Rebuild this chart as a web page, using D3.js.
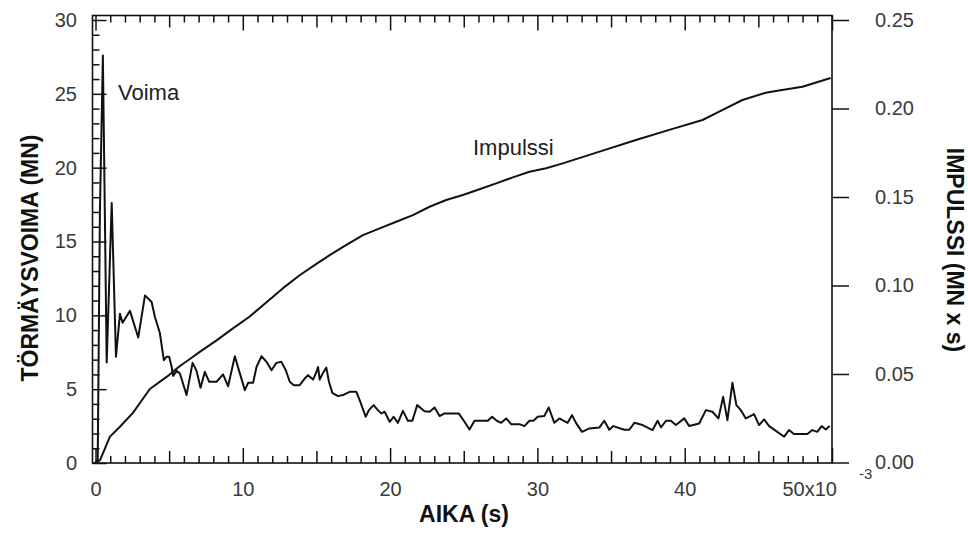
<!DOCTYPE html>
<html>
<head>
<meta charset="utf-8">
<script src="https://cdn.jsdelivr.net/npm/d3@7"></script>
<style>
  body { margin: 0; background: #fff; }
  svg { display: block; }
  text { font-family: Arial, "Liberation Sans", sans-serif; }
</style>
</head>
<body>
<svg id="chart" width="968" height="536"></svg>
<script>
// Collision force (MN) sampled against time (ms)
const forceTime = [0, 0.15, 0.3, 0.5, 0.76, 1.10, 1.39, 1.66, 1.84, 2.34, 2.90, 3.36, 3.81, 4.03, 4.37, 4.64, 4.83,
  5.0, 5.17, 5.27, 5.51, 5.73, 6.18, 6.59, 6.86, 7.13, 7.42, 7.72, 8.22, 8.66, 9.0, 9.46, 9.75,
  10.14, 10.36, 10.7, 10.93, 11.27, 11.61, 11.95, 12.28, 12.62, 12.92, 13.19, 13.46, 13.86, 14.2, 14.43, 14.77,
  15.0, 15.11, 15.22, 15.44, 15.67, 15.85, 16.08, 16.46, 16.8, 17.25, 17.71, 17.98, 18.34, 18.56, 18.88, 19.17,
  19.4, 19.63, 19.97, 20.24, 20.53, 20.87, 21.21, 21.51, 21.84, 22.34, 22.68, 23.02, 23.36, 23.69, 24.66, 25.05,
  25.39, 25.73, 26.63, 26.93, 27.24, 27.54, 27.88, 28.22, 28.78, 29.12, 29.46, 29.73, 30.02, 30.47, 30.77, 31.15,
  31.49, 32.05, 32.35, 32.62, 33.03, 33.53, 34.2, 34.54, 34.88, 35.15, 35.9, 36.24, 36.58, 37.14, 37.82, 38.16,
  38.39, 38.73, 39.06, 39.4, 39.97, 40.31, 40.98, 41.44, 41.88, 42.29, 42.61, 42.9, 43.24, 43.51, 43.81, 44.15,
  44.71, 45.05, 45.39, 45.73, 46.29, 46.75, 47.08, 47.42, 48.33, 48.66, 49.0, 49.3, 49.57, 49.84];
const forceValue = [0, 0.2, 17, 27.6, 6.8, 17.6, 7.2, 10.1, 9.5, 10.3, 8.5, 11.35, 10.9, 9.9, 8.8, 6.96, 7.2,
  7.2, 6.5, 5.9, 6.24, 6.06, 4.6, 6.78, 6.24, 5.1, 6.17, 5.5, 5.5, 6.0, 5.2, 7.23, 6.24,
  4.93, 5.43, 5.43, 6.5, 7.23, 6.85, 6.28, 6.78, 6.85, 6.28, 5.5, 5.27, 5.27, 5.72, 5.95, 5.65,
  6.17, 6.5, 5.65, 6.1, 6.46, 5.5, 4.75, 4.53, 4.6, 4.82, 4.82, 4.14, 3.13, 3.58, 3.92, 3.58,
  3.36, 3.47, 2.79, 3.13, 2.72, 3.53, 2.86, 2.86, 3.92, 3.51, 3.47, 3.76, 3.18, 3.36, 3.36, 2.79,
  2.27, 2.86, 2.86, 3.13, 2.86, 2.72, 3.02, 2.63, 2.63, 2.5, 2.86, 2.86, 3.13, 3.18, 3.76, 2.72,
  3.02, 2.72, 3.24, 2.72, 2.11, 2.34, 2.4, 2.86, 2.25, 2.5, 2.25, 2.25, 2.72, 2.57, 2.23, 2.86,
  2.41, 2.86, 2.86, 2.57, 3.02, 2.5, 2.68, 3.58, 3.47, 3.02, 4.48, 2.9, 5.43, 3.92, 3.58, 3.02,
  3.31, 2.57, 2.95, 2.5, 2.11, 1.78, 2.23, 1.96, 1.96, 2.23, 2.11, 2.5, 2.27, 2.5];

// Accumulated impulse (MN x s) against time (ms)
const impulseTime = [0, 0.31, 0.98, 1.66, 2.54, 3.69, 4.85, 5.73, 6.41, 7.08, 8.22, 9.12, 10.47, 11.61, 12.73, 13.86,
  15.0, 15.9, 17.03, 18.16, 19.29, 20.42, 21.55, 22.68, 23.81, 24.94, 26.07, 27.2, 28.33, 29.46, 30.59, 31.72,
  34.43, 36.69, 38.95, 41.21, 42.34, 43.92, 45.5, 46.4, 47.99, 49.91];
const impulseValue = [0, 0.0014, 0.0146, 0.0202, 0.028, 0.0415, 0.0485, 0.0545, 0.0585, 0.0625, 0.069, 0.0745, 0.0825, 0.0905, 0.0985, 0.1058,
  0.1122, 0.1172, 0.1229, 0.1285, 0.1323, 0.136, 0.1398, 0.1445, 0.1483, 0.1511, 0.1544, 0.1577, 0.1611, 0.1643, 0.1662, 0.169,
  0.1762, 0.1822, 0.1879, 0.1935, 0.1982, 0.2048, 0.2089, 0.2102, 0.2123, 0.2172];

// Axis tick values
const timeMajor = [0, 10, 20, 30, 40, 50];
const timeLabels = ["0", "10", "20", "30", "40", "50x10"];
const forceMajor = [0, 5, 10, 15, 20, 25, 30];
const impulseMajor = [0, 0.05, 0.10, 0.15, 0.20, 0.25];

const svg = d3.select("#chart");
svg.append("rect").attr("width", 968).attr("height", 536).attr("fill", "#fff");

const frameLeft = 92.5, frameRight = 832, frameTop = 15.5, frameBottom = 463;
const x = d3.scaleLinear().domain([0, 50]).range([95.5, frameRight]);
const yF = d3.scaleLinear().domain([0, 30]).range([frameBottom, 20]);
const yI = d3.scaleLinear().domain([0, 0.25]).range([462.5, 20]);

const tickColor = "#111";
const labelColor = "#3a3a3a";

function styleAxis(g, fontSize) {
  g.select(".domain").remove();
  g.selectAll(".tick line").attr("stroke", tickColor).attr("stroke-width", 1.5);
  g.selectAll(".tick text").attr("fill", labelColor).style("font-size", fontSize + "px")
    .style("font-family", "Arial, 'Liberation Sans', sans-serif");
}

const ints = d3.range(0, 51);
const timeMid = ints.filter(v => v % 5 === 0 && v % 10 !== 0);
const timeMinor = ints.filter(v => v % 5 !== 0);
const forceMinor = d3.range(0, 31).filter(v => v % 5 !== 0);

// bottom time axis: ticks point into the plot
svg.append("g").attr("transform", `translate(0,${frameBottom})`)
  .call(d3.axisBottom(x).tickValues(timeMinor).tickSizeInner(-7).tickSizeOuter(0).tickFormat(""))
  .call(g => styleAxis(g, 20));
svg.append("g").attr("transform", `translate(0,${frameBottom})`)
  .call(d3.axisBottom(x).tickValues(timeMid).tickSizeInner(-12).tickSizeOuter(0).tickFormat(""))
  .call(g => styleAxis(g, 20));
const xMajor = svg.append("g").attr("transform", `translate(0,${frameBottom})`)
  .call(d3.axisBottom(x).tickValues(timeMajor).tickSizeInner(-15).tickSizeOuter(0).tickPadding(19)
    .tickFormat((d, i) => timeLabels[i]))
  .call(g => styleAxis(g, 20));
xMajor.selectAll(".tick text").filter(d => d === 50).attr("text-anchor", "start").attr("x", -50);

// top mirror ticks
svg.append("g").attr("transform", `translate(0,${frameTop})`)
  .call(d3.axisTop(x).tickValues(timeMinor).tickSizeInner(-7).tickSizeOuter(0).tickFormat(""))
  .call(g => styleAxis(g, 20));
svg.append("g").attr("transform", `translate(0,${frameTop})`)
  .call(d3.axisTop(x).tickValues(timeMid).tickSizeInner(-12).tickSizeOuter(0).tickFormat(""))
  .call(g => styleAxis(g, 20));
svg.append("g").attr("transform", `translate(0,${frameTop})`)
  .call(d3.axisTop(x).tickValues(timeMajor).tickSizeInner(-15).tickSizeOuter(0).tickFormat(""))
  .call(g => styleAxis(g, 20));

// left force axis
svg.append("g").attr("transform", `translate(${frameLeft},0)`)
  .call(d3.axisLeft(yF).tickValues(forceMinor).tickSizeInner(-7).tickSizeOuter(0).tickFormat(""))
  .call(g => styleAxis(g, 20));
svg.append("g").attr("transform", `translate(${frameLeft},0)`)
  .call(d3.axisLeft(yF).tickValues(forceMajor).tickSizeInner(-14).tickSizeOuter(0).tickPadding(15.5)
    .tickFormat(d3.format("d")))
  .call(g => styleAxis(g, 20));

// right impulse axis, ticks outside
svg.append("g").attr("transform", `translate(${frameRight},0)`)
  .call(d3.axisRight(yI).tickValues(impulseMajor).tickSizeInner(17).tickSizeOuter(0).tickPadding(26)
    .tickFormat(d3.format(".2f")))
  .call(g => styleAxis(g, 20));

// frame
svg.append("rect").attr("x", frameLeft).attr("y", frameTop)
  .attr("width", frameRight - frameLeft).attr("height", frameBottom - frameTop)
  .attr("fill", "none").attr("stroke", tickColor).attr("stroke-width", 1.6);

// exponent of the time unit
svg.append("text").attr("x", 859).attr("y", 479).attr("fill", labelColor)
  .style("font-size", "15px").text("-3");

// curves
const forceLine = d3.line().x((d, i) => x(forceTime[i])).y(d => yF(d));
svg.append("path").datum(forceValue).attr("d", forceLine)
  .attr("fill", "none").attr("stroke", "#111").attr("stroke-width", 2).attr("stroke-linejoin", "round");

const impulseLine = d3.line().x((d, i) => x(impulseTime[i])).y(d => yI(d));
svg.append("path").datum(impulseValue).attr("d", impulseLine)
  .attr("fill", "none").attr("stroke", "#111").attr("stroke-width", 2).attr("stroke-linejoin", "round");

// curve labels
svg.append("text").attr("x", 118).attr("y", 99.5).attr("fill", "#222")
  .style("font-size", "22px").text("Voima");
svg.append("text").attr("x", 473).attr("y", 155).attr("fill", "#222")
  .style("font-size", "22px").text("Impulssi");

// axis titles
svg.append("text").attr("x", 464).attr("y", 522).attr("text-anchor", "middle")
  .style("font-size", "23px").style("font-weight", "bold").attr("fill", "#111").text("AIKA (s)");
svg.append("text").attr("transform", "translate(38,258) rotate(-90)").attr("text-anchor", "middle")
  .style("font-size", "23px").style("font-weight", "bold").attr("fill", "#111").text("TÖRMÄYSVOIMA (MN)");
svg.append("text").attr("transform", "translate(947,250) rotate(90)").attr("text-anchor", "middle")
  .style("font-size", "23px").style("font-weight", "bold").attr("fill", "#111").text("IMPULSSI (MN x s)");
</script>
</body>
</html>
